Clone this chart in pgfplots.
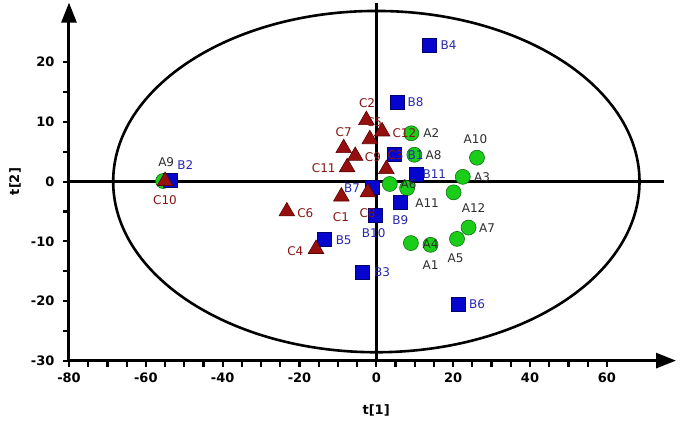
\documentclass[border=0pt]{standalone}
\usepackage{pgfplots}
\pgfplotsset{compat=1.18}
\usepackage{pgfplotstable}
\usepackage{fontspec}
\setmainfont{DejaVu Sans}
\usetikzlibrary{arrows.meta}

\definecolor{agreen}{RGB}{25,205,25}
\definecolor{agreenedge}{RGB}{20,110,20}
\definecolor{bblue}{RGB}{5,5,205}
\definecolor{bblueedge}{RGB}{0,0,110}
\definecolor{cred}{RGB}{150,15,15}
\definecolor{crededge}{RGB}{90,0,0}
\definecolor{alab}{RGB}{45,45,45}
\definecolor{blab}{RGB}{40,40,175}
\definecolor{clab}{RGB}{135,20,20}

\pgfplotstableread{
name x y lx ly
A1 14.1 -10.6 14.1 -14.0
A2 9.1 8.1 14.3 8.1
A3 22.5 0.8 27.5 0.8
A4 9.0 -10.3 14.1 -10.4
A5 21.0 -9.6 20.6 -12.8
A6 3.5 -0.4 8.4 -0.4
A7 24.0 -7.7 28.8 -7.8
A8 9.9 4.5 14.9 4.5
A9 -55.5 0.1 -54.7 3.3
A10 26.2 4.0 25.8 7.1
A11 8.0 -1.1 13.2 -3.6
A12 20.1 -1.8 25.3 -4.5
}\tabA

\pgfplotstableread{
name x y lx ly
B1 4.8 4.6 10.2 4.5
B2 -53.6 0.2 -49.7 2.8
B3 -3.6 -15.2 1.5 -15.2
B4 13.9 22.9 18.8 22.9
B5 -13.5 -9.6 -8.5 -9.8
B6 21.3 -20.5 26.2 -20.5
B7 -1.1 -0.9 -6.3 -1.1
B8 5.4 13.3 10.2 13.3
B9 6.25 -3.4 6.25 -6.4
B10 -0.4 -5.6 -0.7 -8.6
B11 10.4 1.3 15.1 1.2
}\tabB

\pgfplotstableread{
name x y lx ly
C1 -9.1 -2.5 -9.2 -6.0
C2 -2.6 10.3 -2.4 13.2
C3 2.6 2.1 5.0 4.5
C4 -15.7 -11.3 -21.1 -11.6
C5 -1.7 7.1 -0.6 10.0
C6 -23.3 -5.0 -18.5 -5.3
C7 -8.5 5.6 -8.5 8.3
C8 -2.2 -1.8 -2.3 -5.3
C9 -5.5 4.3 -0.9 4.1
C10 -55.0 0.1 -55.0 -3.1
C11 -7.6 2.4 -13.7 2.2
C12 1.5 8.4 7.3 8.1
}\tabC

\begin{document}
\begin{tikzpicture}
\begin{axis}[
  scale only axis, width=607pt, height=358pt,
  xmin=-80, xmax=78, ymin=-30, ymax=30,
  axis x line=bottom, axis y line=left,
  axis line style={line width=3pt, black},
  x axis line style={-{Triangle[length=20pt,width=15pt]}},
  y axis line style={-{Triangle[length=20pt,width=15pt]}},
  xtick={-80,-60,...,60}, ytick={-30,-20,...,20},
  minor x tick num=3, minor y tick num=1,
  tick align=outside, major tick length=6pt, minor tick length=6pt,
  every tick/.style={line width=2.2pt, black},
  minor tick style={line width=2.2pt, black},
  ticklabel style={font=\bfseries\fontsize{13}{15}\selectfont},
  xticklabel style={yshift=-3pt},
  yticklabel style={xshift=-5pt},
  /pgf/number format/assume math mode=true,
  xlabel={t[1]}, ylabel={t[2]},
  label style={font=\bfseries\fontsize{13}{15}\selectfont},
  xlabel style={at={(rel axis cs:0.506,0)}, anchor=center, yshift=-50pt},
  ylabel style={at={(rel axis cs:0,0.5)}, anchor=center, yshift=54pt},
  clip=false,
]
\path (rel axis cs:0,0) ++(-69pt,-62pt) (rel axis cs:1,1) ++(9pt,2.6pt);
\draw[line width=2.6pt] (axis cs:0,0) ellipse [x radius=68.5, y radius=28.6];
\draw[line width=3pt] (axis cs:-80,0) -- (axis cs:75,0);
\draw[line width=3pt] (axis cs:0,-30) -- (axis cs:0,30);

\addplot[only marks, mark=*, mark size=7.5pt,
  mark options={fill=agreen, draw=agreenedge, line width=0.6pt}]
  table[x=x, y=y] {\tabA};
\addplot[only marks, mark=square*, mark size=7pt,
  mark options={fill=bblue, draw=bblueedge, line width=0.6pt}]
  table[x=x, y=y] {\tabB};
\addplot[only marks, mark=triangle*, mark size=9pt,
  mark options={fill=cred, draw=crededge, line width=0.6pt}]
  table[x=x, y=y] {\tabC};

\addplot[only marks, mark=*, mark size=0pt, point meta=explicit symbolic,
  nodes near coords, nodes near coords style={anchor=center, text=alab, inner sep=0pt,
  font=\fontsize{12}{14}\selectfont}]
  table[x=lx, y=ly, meta=name] {\tabA};
\addplot[only marks, mark=*, mark size=0pt, point meta=explicit symbolic,
  nodes near coords, nodes near coords style={anchor=center, text=blab, inner sep=0pt,
  font=\fontsize{12}{14}\selectfont}]
  table[x=lx, y=ly, meta=name] {\tabB};
\addplot[only marks, mark=*, mark size=0pt, point meta=explicit symbolic,
  nodes near coords, nodes near coords style={anchor=center, text=clab, inner sep=0pt,
  font=\fontsize{12}{14}\selectfont}]
  table[x=lx, y=ly, meta=name] {\tabC};
\end{axis}
\end{tikzpicture}
\end{document}
